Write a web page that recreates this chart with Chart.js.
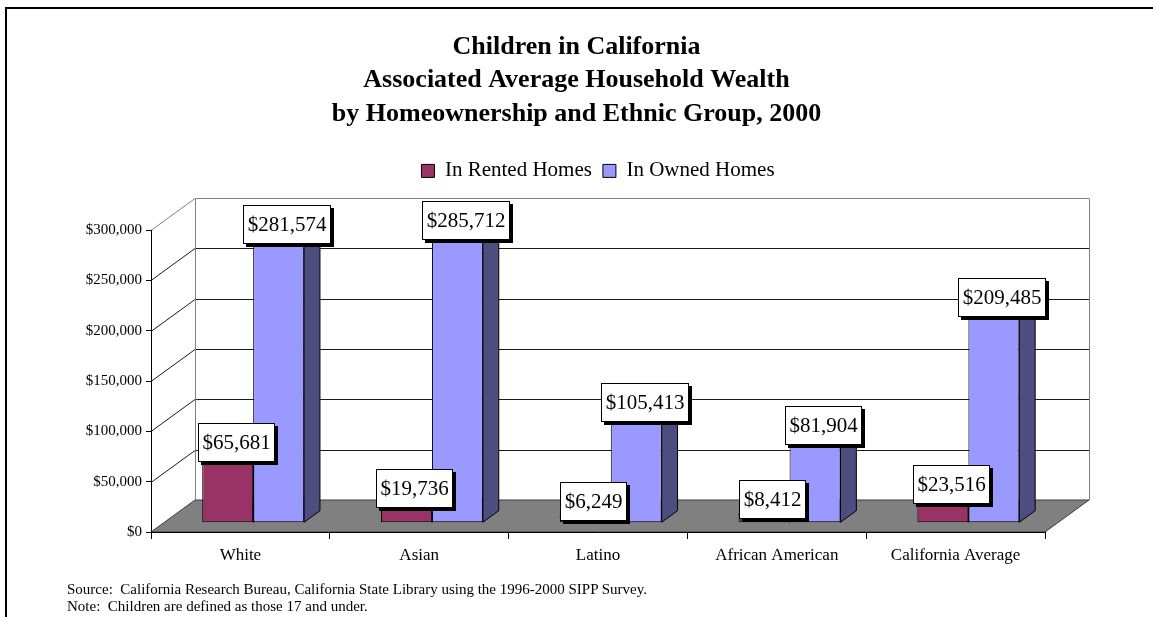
<!DOCTYPE html>
<html>
<head>
<meta charset="utf-8">
<script src="https://cdn.jsdelivr.net/npm/chart.js@4.4.1/dist/chart.umd.min.js"></script>
<style>
  html, body { margin: 0; padding: 0; background: #fff; }
  #wrap { position: relative; width: 1153px; height: 617px; overflow: hidden; }
  #frame { position: absolute; left: 5px; top: 7px; width: 1200px; height: 700px;
           border-left: 2px solid #000; border-top: 2px solid #000; box-sizing: border-box; }
  canvas { position: absolute; left: 0; top: 0; }
  #notes { position: absolute; left: 67px; top: 581px; font: 15px/17px "Liberation Serif", "Times New Roman", serif;
           color: #000; white-space: pre; }
</style>
</head>
<body>
<div id="wrap">
  <div id="frame"></div>
  <canvas id="chart" width="1153" height="617"></canvas>
  <div id="notes">Source:  California Research Bureau, California State Library using the 1996-2000 SIPP Survey.
Note:  Children are defined as those 17 and under.</div>
</div>
<script>
// Average household wealth of children's households, California, 2000
const categories = ['White', 'Asian', 'Latino', 'African American', 'California Average'];
const rentedHomes = [65681, 19736, 6249, 8412, 23516];
const ownedHomes = [281574, 285712, 105413, 81904, 209485];
const seriesNames = ['In Rented Homes', 'In Owned Homes'];
const tickValues = [0, 50000, 100000, 150000, 200000, 250000, 300000];
const titleLines = [
  'Children in California',
  'Associated Average Household Wealth',
  'by Homeownership and Ethnic Group, 2000'
];

const money = v => '$' + Number(v).toLocaleString('en-US');

// Oblique depth of the plot box (front plane -> back wall)
const DX = 44, DY = -32;
// Where the columns sit inside that depth, as fractions of it
const BAR_FRONT = 0.29, BAR_DEPTH = 0.36;

Chart.defaults.font.family = '"Liberation Serif", "Times New Roman", serif';
Chart.defaults.color = '#000';

function poly(ctx, pts, fill, stroke) {
  ctx.beginPath();
  ctx.moveTo(pts[0][0], pts[0][1]);
  for (let i = 1; i < pts.length; i++) ctx.lineTo(pts[i][0], pts[i][1]);
  ctx.closePath();
  if (fill) { ctx.fillStyle = fill; ctx.fill(); }
  if (stroke) { ctx.strokeStyle = stroke; ctx.lineWidth = 1; ctx.stroke(); }
}

const box3d = {
  id: 'box3d',
  // walls, floor and gridlines behind everything
  beforeDraw(chart) {
    const { ctx, chartArea: a, scales: { y } } = chart;
    const L = a.left, R = a.right, B = a.bottom;
    ctx.save();
    // floor
    poly(ctx, [[L, B], [R, B], [R + DX, B + DY], [L + DX, B + DY]], '#808080', '#3a3a3a');
    // gridlines on the side wall and back wall
    tickValues.forEach(v => {
      if (v === 0) return;
      const py = Math.round(y.getPixelForValue(v)) + 0.5;
      const top = v === tickValues[tickValues.length - 1];
      ctx.strokeStyle = top ? '#808080' : '#1a1a1a';
      ctx.lineWidth = 1;
      ctx.beginPath();
      ctx.moveTo(L, py);
      ctx.lineTo(L + DX, py + DY);
      ctx.lineTo(R + DX, py + DY);
      ctx.stroke();
    });
    // back wall outline
    const yTop = Math.round(y.getPixelForValue(tickValues[tickValues.length - 1])) + 0.5 + DY;
    ctx.strokeStyle = '#808080';
    ctx.beginPath();
    ctx.moveTo(L + DX + 0.5, B + DY);
    ctx.lineTo(L + DX + 0.5, yTop);
    ctx.moveTo(R + DX + 0.5, B + DY);
    ctx.lineTo(R + DX + 0.5, yTop);
    ctx.stroke();
    ctx.restore();
  },
  // columns are pushed back into the box; side and top faces go behind their front faces
  beforeDatasetsDraw(chart) {
    const { ctx } = chart;
    ctx.save();
    ctx.translate(DX * BAR_FRONT, DY * BAR_FRONT);
    const ddx = DX * BAR_DEPTH, ddy = DY * BAR_DEPTH;
    chart.data.datasets.forEach((ds, i) => {
      chart.getDatasetMeta(i).data.forEach(bar => {
        const { x, y, base, width } = bar.getProps(['x', 'y', 'base', 'width'], true);
        const x0 = x - width / 2, x1 = x + width / 2;
        poly(ctx, [[x1, base], [x1 + ddx, base + ddy], [x1 + ddx, y + ddy], [x1, y]], ds.sideColor, '#000');
        poly(ctx, [[x0, y], [x1, y], [x1 + ddx, y + ddy], [x0 + ddx, y + ddy]], ds.topColor, '#000');
      });
    });
  },
  afterDatasetsDraw(chart) {
    const { ctx } = chart;
    ctx.restore();
    // value labels: white boxes with a drop shadow
    ctx.save();
    ctx.font = '21px "Liberation Serif", "Times New Roman", serif';
    ctx.textAlign = 'center';
    ctx.textBaseline = 'middle';
    const ddx = DX * BAR_DEPTH;
    chart.data.datasets.forEach((ds, i) => {
      chart.getDatasetMeta(i).data.forEach((bar, j) => {
        const { x, y } = bar.getProps(['x', 'y'], true);
        const txt = money(ds.data[j]);
        const w = Math.round(ctx.measureText(txt).width + 8);
        const h = 38;
        const cx = x + DX * BAR_FRONT + ddx / 2;
        const cy = y + DY * BAR_FRONT - 15;
        const bx = Math.round(cx - w / 2) + 0.5, by = Math.round(cy - h / 2) + 0.5;
        ctx.fillStyle = '#000';
        ctx.fillRect(bx + 2.5, by + 2.5, w + 1, h + 1);
        ctx.fillStyle = '#fff';
        ctx.fillRect(bx, by, w, h);
        ctx.strokeStyle = '#000';
        ctx.lineWidth = 1;
        ctx.strokeRect(bx, by, w, h);
        ctx.fillStyle = '#000';
        ctx.fillText(txt, bx + w / 2, by + h / 2 + 1);
      });
    });
    ctx.restore();
  }
};

new Chart(document.getElementById('chart'), {
  type: 'bar',
  data: {
    labels: categories,
    datasets: [
      { label: seriesNames[0], data: rentedHomes, xAxisID: 'x', yAxisID: 'y',
        backgroundColor: '#993366', borderColor: '#000', borderWidth: 1, borderSkipped: false,
        sideColor: '#4d1a33', topColor: '#b34d80' },
      { label: seriesNames[1], data: ownedHomes, xAxisID: 'x', yAxisID: 'y',
        backgroundColor: '#9999ff', borderColor: '#000', borderWidth: 1, borderSkipped: false,
        sideColor: '#4d4d80', topColor: '#8080dd' }
    ]
  },
  options: {
    responsive: false,
    animation: false,
    devicePixelRatio: 1,
    layout: { padding: 0 },
    datasets: { bar: { categoryPercentage: 0.57, barPercentage: 1 } },
    plugins: {
      title: {
        display: true, text: titleLines, color: '#000',
        font: { size: 26, weight: 'bold', lineHeight: 1.3 },
        padding: { top: 30, bottom: 18 }
      },
      legend: {
        display: true, position: 'top', fullSize: false,
        labels: { boxWidth: 13, boxHeight: 13, padding: 11, color: '#000', font: { size: 21 } }
      },
      tooltip: { enabled: false }
    },
    scales: {
      x: {
        type: 'category', position: 'bottom',
        grid: { display: true, offset: true, drawOnChartArea: false, drawTicks: true, tickLength: 7, color: '#000' },
        border: { display: true, color: '#000' },
        ticks: { color: '#000', font: { size: 17 }, padding: 6, maxRotation: 0, autoSkip: false },
        afterFit: s => { s.height = 85; }
      },
      y: {
        type: 'linear', position: 'left', min: 0, max: 300000,
        grid: { display: true, drawOnChartArea: false, tickLength: 5, color: '#000' },
        border: { display: true, color: '#000' },
        ticks: { color: '#000', font: { size: 15 }, padding: 4, callback: v => money(v) },
        afterBuildTicks: s => { s.ticks = tickValues.map(v => ({ value: v })); },
        afterFit: s => { s.width = 151; }
      },
      // empty bands that leave room for the box depth above and to the right
      gap: {
        type: 'linear', position: 'top', display: true,
        grid: { display: false }, border: { display: false }, ticks: { display: false },
        afterFit: s => { s.height = 38.6; }
      },
      gapRight: {
        type: 'linear', position: 'right', display: true,
        grid: { display: false }, border: { display: false }, ticks: { display: false },
        afterFit: s => { s.width = 108; }
      }
    }
  },
  plugins: [box3d]
});
</script>
</body>
</html>
